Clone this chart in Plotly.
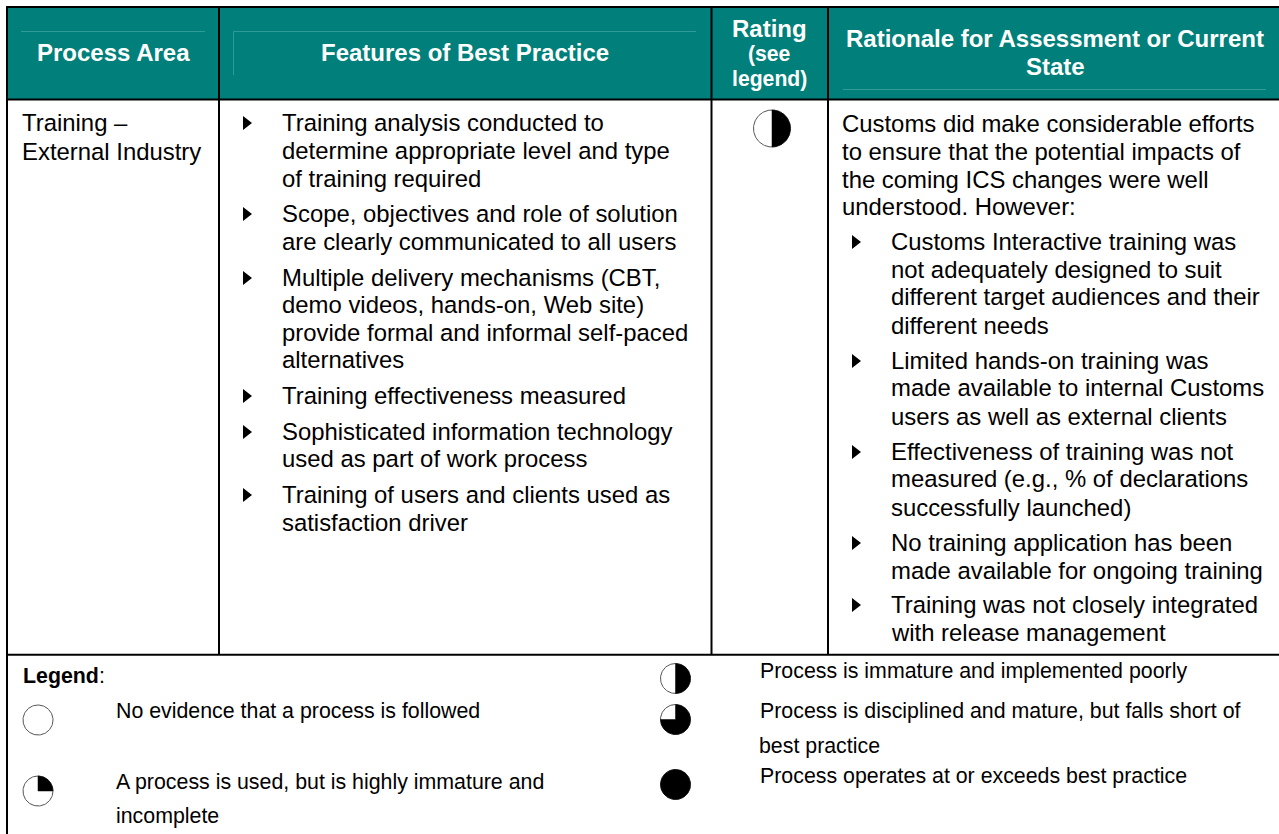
import numpy as np
import plotly.graph_objects as go

# ---------- content ----------
HEADERS = ["Process Area", "Features of Best Practice", "Rating", "(see", "legend)",
           "Rationale for Assessment or Current", "State"]
AREA_LINES = ["Training –", "External Industry"]
FEATURE_LINES = [
    "Training analysis conducted to", "determine appropriate level and type", "of training required",
    "Scope, objectives and role of solution", "are clearly communicated to all users",
    "Multiple delivery mechanisms (CBT,", "demo videos, hands-on, Web site)",
    "provide formal and informal self-paced", "alternatives",
    "Training effectiveness measured",
    "Sophisticated information technology", "used as part of work process",
    "Training of users and clients used as", "satisfaction driver",
]
RATIONALE_INTRO = ["Customs did make considerable efforts", "to ensure that the potential impacts of",
                   "the coming ICS changes were well", "understood. However:"]
RATIONALE_LINES = [
    "Customs Interactive training was", "not adequately designed to suit",
    "different target audiences and their", "different needs",
    "Limited hands-on training was", "made available to internal Customs", "users as well as external clients",
    "Effectiveness of training was not", "measured (e.g., % of declarations", "successfully launched)",
    "No training application has been", "made available for ongoing training",
    "Training was not closely integrated", "with release management",
]
LEGEND_TITLE = "Legend"
LEGEND_LINES = ["No evidence that a process is followed",
                "A process is used, but is highly immature and", "incomplete",
                "Process is immature and implemented poorly",
                "Process is disciplined and mature, but falls short of", "best practice",
                "Process operates at or exceeds best practice"]
RATING_VALUE = 0.5
LEGEND_LEVELS = [0, 0.25, 0.5, 0.75, 1]

# ---------- layout ----------
W, H = 1279, 834
TEAL = "#007F7B"
FAINT = "#2F9A96"
FONT = "Liberation Sans"
BODY = 23.9
LEG = 21.35
HEAD = 24
HEAD_SMALL = 21.2
DY = -1  # shift from x-height centre to text box centre

FEATURE_Y = [123, 151.5, 179, 214, 242, 278, 305, 333, 360, 396, 432, 459, 495, 523]
FEATURE_BUL = [123, 214, 278, 396, 432, 495]
INTRO_Y = [124, 152, 180, 207]
RATIONALE_Y = [242, 270, 297, 326, 361, 388, 417, 452, 479, 508, 543, 571, 605, 633]
RATIONALE_BUL = [242, 361, 452, 543, 605]
LEG_X = [116, 116, 116, 760, 760, 759, 760]
LEG_Y = [712, 783, 817, 672, 712, 747, 777]
BALLS = [(38, 720, 15), (38, 791, 15), (675.5, 678.5, 15), (675.5, 719.5, 15), (675.5, 784.5, 15)]
BALL_LEVELS = [LEGEND_LEVELS[0], LEGEND_LEVELS[1], LEGEND_LEVELS[2], LEGEND_LEVELS[3], LEGEND_LEVELS[4]]

fig = go.Figure()
ann = []


def text(x, y, s, size=BODY, color="black", bold=False, anchor="left"):
    ann.append(dict(x=x, y=y + DY, text=f"<b>{s}</b>" if bold else s, showarrow=False, xref="x", yref="y",
                    xanchor=anchor, yanchor="middle", borderpad=0, borderwidth=0,
                    font=dict(family=FONT, size=size, color=color)))


def ball(cx, cy, r, level, lw=1):
    t = np.linspace(0, 2 * np.pi, 121)
    fig.add_trace(go.Scatter(x=cx + r * np.cos(t), y=cy + r * np.sin(t), mode="lines", fill="toself",
                             fillcolor="white", line=dict(color="#555555", width=lw),
                             hoverinfo="skip", showlegend=False))
    if level > 0:
        # clockwise from 12 o'clock, y axis points down
        a = np.linspace(-np.pi / 2, -np.pi / 2 + 2 * np.pi * level, 121)
        xs = cx + r * np.cos(a)
        ys = cy + r * np.sin(a)
        if level < 1:
            xs = np.r_[cx, xs, cx]
            ys = np.r_[cy, ys, cy]
        fig.add_trace(go.Scatter(x=xs, y=ys, mode="lines", fill="toself", fillcolor="black",
                                 line=dict(color="black", width=0.5), hoverinfo="skip", showlegend=False))


shapes = [
    dict(type="rect", x0=7, x1=W, y0=7, y1=99.5, fillcolor=TEAL, line_width=0, layer="below"),
]
for x0, y0, x1, y1 in [(21, 31.5, 205, 31.5), (233.5, 31.5, 696, 31.5), (233.5, 31.5, 233.5, 75),
                       (843, 89.5, 1266, 89.5)]:
    shapes.append(dict(type="line", x0=x0, x1=x1, y0=y0, y1=y1, line=dict(color=FAINT, width=1)))
for x0, y0, x1, y1 in [(6, 7, W, 7), (6, 99.5, W, 99.5), (6, 654.7, W, 654.7), (7, 6, 7, H),
                       (219, 7, 219, 655), (711.5, 7, 711.5, 655), (828, 7, 828, 655)]:
    shapes.append(dict(type="line", x0=x0, x1=x1, y0=y0, y1=y1, line=dict(color="black", width=2)))

# headers
text(113, 53, HEADERS[0], HEAD, "white", True, "center")
text(465, 53, HEADERS[1], HEAD, "white", True, "center")
text(769, 29, HEADERS[2], HEAD, "white", True, "center")
text(769, 55, HEADERS[3], HEAD_SMALL, "white", True, "center")
text(769, 80, HEADERS[4], HEAD_SMALL, "white", True, "center")
text(1055, 39, HEADERS[5], HEAD, "white", True, "center")
text(1055, 67, HEADERS[6], HEAD, "white", True, "center")

# body
for y, s in zip([123, 152], AREA_LINES):
    text(22, y, s)
for y, s in zip(FEATURE_Y, FEATURE_LINES):
    text(282, y, s)
for y, s in zip(INTRO_Y, RATIONALE_INTRO):
    text(842, y, s)
for y, s in zip(RATIONALE_Y, RATIONALE_LINES):
    text(891, y, s)

# bullets
fig.add_trace(go.Scatter(x=[246] * len(FEATURE_BUL) + [855] * len(RATIONALE_BUL), y=FEATURE_BUL + RATIONALE_BUL,
                         mode="markers", marker=dict(symbol="triangle-right", size=12, color="black",
                                                     line=dict(width=0)),
                         hoverinfo="skip", showlegend=False))

# rating + legend
ball(772, 128.5, 18.5, RATING_VALUE)
ann.append(dict(x=22, y=676, text=f"<b>{LEGEND_TITLE}</b>:", showarrow=False, xanchor="left", yanchor="middle",
                borderpad=0, font=dict(family=FONT, size=LEG, color="black")))
for x, y, s in zip(LEG_X, LEG_Y, LEGEND_LINES):
    text(x, y, s, LEG)
for (cx, cy, r), lv in zip(BALLS, BALL_LEVELS):
    ball(cx, cy, r, lv)

fig.update_layout(
    width=W, height=H, margin=dict(l=0, r=0, t=0, b=0, pad=0), autosize=False,
    paper_bgcolor="white", plot_bgcolor="white",
    xaxis=dict(range=[0, W], visible=False, fixedrange=True),
    yaxis=dict(range=[H, 0], visible=False, fixedrange=True),
    shapes=shapes, annotations=ann, showlegend=False, hovermode=False,
)
fig.write_html("out.html", config=dict(displayModeBar=False),
               post_script="document.body.style.margin='0';document.documentElement.style.overflow='hidden';")
